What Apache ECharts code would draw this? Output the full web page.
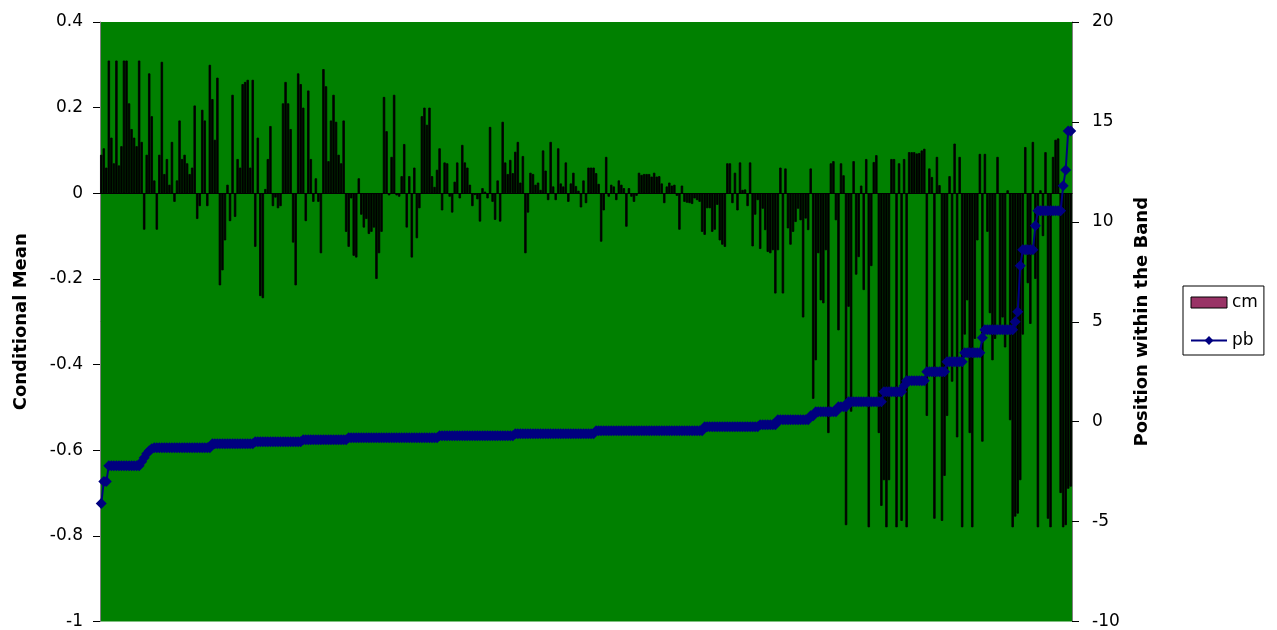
<!DOCTYPE html>
<html>
<head>
<meta charset="utf-8">
<script src="https://cdn.jsdelivr.net/npm/echarts@6/dist/echarts.min.js"></script>
<style>
  html, body { margin: 0; padding: 0; background: #fff; }
  #chart { width: 1277px; height: 630px; }
</style>
</head>
<body>
<div id="chart"></div>
<script>
// conditional mean (bars, left axis), read left to right
const cm = [
  0.09, 0.105, 0.06, 0.31, 0.13, 0.07, 0.31, 0.065, 0.11, 0.31,
  0.31, 0.21, 0.15, 0.13, 0.11, 0.31, 0.12, -0.085, 0.09, 0.28,
  0.18, 0.03, -0.085, 0.09, 0.307, 0.045, 0.08, 0.02, 0.12, -0.02,
  0.03, 0.17, 0.08, 0.09, 0.07, 0.045, 0.06, 0.205, -0.06, -0.03,
  0.195, 0.17, -0.03, 0.30, 0.22, 0.125, 0.27, -0.215, -0.18, -0.11,
  0.02, -0.065, 0.23, -0.055, 0.08, 0.06, 0.255, 0.26, 0.265, 0.06,
  0.265, -0.125, 0.13, -0.24, -0.245,

  0.01, 0.08, 0.157, -0.03, -0.01, -0.035, -0.03, 0.21, 0.26, 0.21,
  0.15, -0.115, -0.215, 0.28, 0.255, 0.2, -0.065, 0.24, 0.08, -0.02,
  0.035, -0.02, -0.14, 0.29, 0.25, 0.075, 0.17, 0.23, 0.167, 0.09,
  0.07, 0.17, -0.09, -0.125, -0.012, -0.146, -0.15, 0.035, -0.05, -0.08,
  -0.06, -0.095, -0.09, -0.08, -0.2, -0.14, -0.09, 0.225, 0.145, -0.005,
  0.085, 0.23, -0.005, -0.008, 0.04, 0.115, -0.08, 0.04, -0.15, 0.06,
  -0.105, -0.035, 0.18, 0.2, 0.16,

  0.2, 0.04, 0.015, 0.055, 0.105, -0.04, 0.072, 0.07, -0.008, -0.045,
  0.027, 0.072, -0.012, 0.113, 0.072, 0.06, 0.02, -0.03, -0.004, -0.014,
  -0.066, 0.012, 0.004, -0.012, 0.155, -0.02, -0.062, 0.03, -0.066, 0.167,
  0.072, 0.045, 0.078, 0.047, 0.097, 0.12, 0.025, 0.087, -0.14, -0.045,
  0.048, 0.045, 0.02, 0.025, 0.008, 0.1, 0.053, -0.016, 0.12, 0.016,
  -0.016, 0.105, 0.023, 0.016, 0.072, -0.02, 0.023, 0.048, 0.017, 0.006,
  -0.033, 0.03, -0.023, 0.06, 0.06,

  0.06, 0.047, 0.022, -0.113, -0.04, 0.085, -0.008, 0.02, 0.016, -0.016,
  0.03, 0.02, 0.012, -0.078, 0.012, -0.008, -0.02, -0.006, 0.048, 0.043,
  0.045, 0.045, 0.045, 0.039, 0.048, 0.039, 0.04, 0.023, -0.023, 0.016,
  0.025, 0.018, 0.02, -0.006, -0.085, 0.018, -0.02, -0.022, -0.023, -0.025,
  -0.012, -0.016, -0.02, -0.09, -0.097, -0.035, -0.035, -0.09, -0.085, -0.027,
  -0.11, -0.12, -0.125, 0.07, 0.07, -0.023, 0.048, -0.04, 0.072, 0.008,
  0.009, -0.03, 0.072, -0.124, -0.05,

  -0.016, -0.13, -0.036, -0.086, -0.137, -0.14, -0.133, -0.234, -0.133, 0.06,
  -0.234, 0.058, -0.082, -0.12, -0.09, -0.067, -0.036, -0.063, -0.29, -0.059,
  -0.086, 0.058, -0.48, -0.39, -0.14, -0.25, -0.257, -0.133, -0.56, 0.07,
  0.075, -0.063, -0.32, 0.07, 0.042, -0.775, -0.265, -0.51, 0.075, -0.19,
  -0.149, 0.018, -0.226, 0.08, -0.78, -0.17, 0.073, 0.089, -0.56, -0.73,
  -0.67, -0.78, -0.67, 0.08, 0.08, -0.78, 0.07, -0.765, 0.08, -0.78,
  0.096, 0.096, 0.096, 0.093, 0.094, 0.1,

  0.104, -0.52, 0.058, 0.038, -0.76, 0.085, 0.019, -0.765, -0.66, -0.52,
  0.04, -0.44, 0.116, -0.57, 0.085, -0.78, -0.33, -0.25, -0.56, -0.78,
  -0.34, -0.11, 0.092, -0.58, 0.092, -0.09, -0.28, -0.39, -0.34, 0.085,
  -0.32, -0.29, -0.36, 0.007, -0.53, -0.78, -0.755, -0.748, -0.67, -0.33,
  0.108, -0.21, -0.305, 0.12, -0.2, -0.78, 0.007, -0.1, 0.096, -0.76,
  -0.78, 0.085, 0.125, 0.128, -0.7, -0.78, -0.775, -0.69, -0.685
];

// position within the band (line, right axis)
const pb = [
  -4.1, -3.0, -3.0,
  -2.2, -2.2, -2.2, -2.2, -2.2, -2.2, -2.2, -2.2, -2.2, -2.2, -2.2, -2.2, -2.2,
  -2.0, -1.8, -1.6, -1.45, -1.35,
  -1.3, -1.3, -1.3, -1.3, -1.3, -1.3, -1.3, -1.3, -1.3, -1.3,
  -1.3, -1.3, -1.3, -1.3, -1.3, -1.3, -1.3, -1.3, -1.3, -1.3,
  -1.3, -1.3, -1.3,
  -1.1, -1.1, -1.1, -1.1, -1.1, -1.1, -1.1, -1.1, -1.1, -1.1,
  -1.1, -1.1, -1.1, -1.1, -1.1, -1.1, -1.1,
  -1.0, -1.0, -1.0, -1.0, -1.0, -1.0, -1.0, -1.0, -1.0, -1.0,
  -1.0, -1.0, -1.0, -1.0, -1.0, -1.0, -1.0, -1.0, -1.0,
  -0.9, -0.9, -0.9, -0.9, -0.9, -0.9, -0.9, -0.9, -0.9, -0.9,
  -0.9, -0.9, -0.9, -0.9, -0.9, -0.9, -0.9, -0.9,
  -0.8, -0.8, -0.8, -0.8, -0.8, -0.8, -0.8, -0.8, -0.8, -0.8,
  -0.8, -0.8, -0.8, -0.8, -0.8, -0.8, -0.8, -0.8, -0.8, -0.8,
  -0.8, -0.8, -0.8, -0.8, -0.8, -0.8, -0.8, -0.8, -0.8, -0.8,
  -0.8, -0.8, -0.8, -0.8, -0.8, -0.8,
  -0.7, -0.7, -0.7, -0.7, -0.7, -0.7, -0.7, -0.7, -0.7, -0.7,
  -0.7, -0.7, -0.7, -0.7, -0.7, -0.7, -0.7, -0.7, -0.7, -0.7,
  -0.7, -0.7, -0.7, -0.7, -0.7, -0.7, -0.7, -0.7, -0.7, -0.7,
  -0.6, -0.6, -0.6, -0.6, -0.6, -0.6, -0.6, -0.6, -0.6, -0.6,
  -0.6, -0.6, -0.6, -0.6, -0.6, -0.6, -0.6, -0.6, -0.6, -0.6,
  -0.6, -0.6, -0.6, -0.6, -0.6, -0.6, -0.6, -0.6, -0.6, -0.6,
  -0.6, -0.6,
  -0.45, -0.45, -0.45, -0.45, -0.45, -0.45, -0.45, -0.45, -0.45, -0.45,
  -0.45, -0.45, -0.45, -0.45, -0.45, -0.45, -0.45, -0.45, -0.45, -0.45,
  -0.45, -0.45, -0.45, -0.45, -0.45, -0.45, -0.45, -0.45, -0.45, -0.45,
  -0.45, -0.45, -0.45, -0.45, -0.45, -0.45, -0.45, -0.45, -0.45, -0.45,
  -0.45, -0.45, -0.45,
  -0.25, -0.25, -0.25, -0.25, -0.25, -0.25, -0.25, -0.25, -0.25, -0.25,
  -0.25, -0.25, -0.25, -0.25, -0.25, -0.25, -0.25, -0.25, -0.25, -0.25,
  -0.25, -0.25,
  -0.15, -0.15, -0.15, -0.15, -0.15, -0.15, -0.15,
  0.1, 0.1, 0.1, 0.1, 0.1, 0.1, 0.1, 0.1, 0.1, 0.1, 0.1, 0.1, 0.1,
  0.3, 0.3,
  0.5, 0.5, 0.5, 0.5, 0.5, 0.5, 0.5, 0.5, 0.5,
  0.75, 0.75, 0.75, 0.75,
  1.0, 1.0, 1.0, 1.0, 1.0, 1.0, 1.0, 1.0, 1.0, 1.0, 1.0, 1.0, 1.0, 1.0,
  1.5, 1.5, 1.5, 1.5, 1.5, 1.5, 1.5, 1.5,
  1.8,
  2.05, 2.05, 2.05, 2.05, 2.05, 2.05, 2.05, 2.05,
  2.5, 2.5, 2.5, 2.5, 2.5, 2.5, 2.5, 2.5,
  3.0, 3.0, 3.0, 3.0, 3.0, 3.0, 3.0,
  3.45, 3.45, 3.45, 3.45, 3.45, 3.45, 3.45,
  4.2,
  4.6, 4.6, 4.6, 4.6, 4.6, 4.6, 4.6, 4.6, 4.6, 4.6, 4.6, 4.6,
  5.0, 5.5, 7.8,
  8.6, 8.6, 8.6, 8.6, 8.6,
  9.8,
  10.55, 10.55, 10.55, 10.55, 10.55, 10.55, 10.55, 10.55, 10.55, 10.55,
  11.8, 12.6, 14.55, 14.55
];

const categories = cm.map((v, i) => String(i + 1));

// reference text is drawn wide, DejaVu gets closest
const font = "'DejaVu Sans', 'Liberation Sans', Arial, sans-serif";

const chart = echarts.init(document.getElementById('chart'));

const option = {
    backgroundColor: '#ffffff',
    animation: false,
    textStyle: { fontFamily: font },
    grid: {
        left: 100,
        right: 205,
        top: 22,
        bottom: 8,
        show: true,
        backgroundColor: '#008000',
        borderWidth: 0
    },
    legend: {
        orient: 'vertical',
        left: 1183,
        top: 286,
        backgroundColor: '#ffffff',
        borderColor: '#000000',
        borderWidth: 1,
        borderRadius: 0,
        padding: [8, 6, 6, 7],
        itemGap: 21,
        itemWidth: 36,
        itemHeight: 11,
        textStyle: { fontSize: 17, color: '#000', fontFamily: font },
        data: [
            // bars are so thin they read as black; legend keeps the maroon swatch
            { name: 'cm', icon: 'rect', itemStyle: { color: '#993366', borderColor: '#000', borderWidth: 1 } },
            { name: 'pb' }
        ]
    },
    xAxis: {
        type: 'category',
        data: categories,
        axisLine: { show: true, lineStyle: { color: '#000' } },
        axisTick: { show: false },
        axisLabel: { show: false },
        splitLine: { show: false }
    },
    yAxis: [
        {
            type: 'value',
            min: -1,
            max: 0.4,
            interval: 0.2,
            name: 'Conditional Mean',
            nameLocation: 'middle',
            nameRotate: 90,
            nameGap: 70,
            nameTextStyle: { fontSize: 18, fontWeight: 'bold', color: '#000', fontFamily: font },
            axisLine: { show: true, lineStyle: { color: '#808080' } },
            axisTick: { show: true, length: 7, lineStyle: { color: '#000' } },
            axisLabel: { fontSize: 17, color: '#000', margin: 17, fontFamily: font },
            splitLine: { show: false }
        },
        {
            type: 'value',
            min: -10,
            max: 20,
            interval: 5,
            position: 'right',
            name: 'Position within the Band',
            nameLocation: 'middle',
            nameRotate: 90,
            nameGap: 61,
            nameTextStyle: { fontSize: 18, fontWeight: 'bold', color: '#000', fontFamily: font },
            axisLine: { show: true, lineStyle: { color: '#808080' } },
            axisTick: { show: true, length: 7, lineStyle: { color: '#000' } },
            axisLabel: { fontSize: 17, color: '#000', margin: 20, fontFamily: font },
            splitLine: { show: false }
        }
    ],
    series: [
        {
            name: 'cm',
            type: 'bar',
            yAxisIndex: 0,
            barWidth: 2.4,
            itemStyle: { color: '#000000', borderColor: '#000000', borderWidth: 0.8 },
            data: cm
        },
        {
            name: 'pb',
            type: 'line',
            yAxisIndex: 1,
            symbol: 'diamond',
            symbolSize: 11,
            showAllSymbol: true,
            lineStyle: { color: '#000080', width: 2 },
            itemStyle: { color: '#000080' },
            z: 5,
            data: pb
        }
    ]
};

chart.setOption(option);
</script>
</body>
</html>
